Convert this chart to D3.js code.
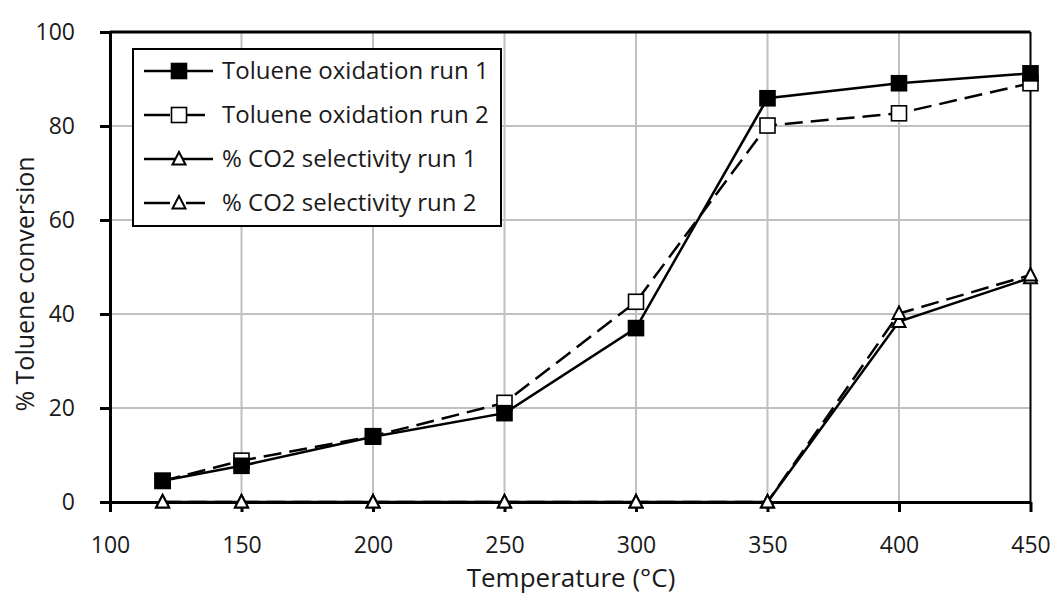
<!DOCTYPE html>
<html>
<head>
<meta charset="utf-8">
<script src="https://cdn.jsdelivr.net/npm/d3@7"></script>
<style>
  body { margin: 0; background: #fff; }
  svg text { font-family: "Open Sans", "Noto Sans", sans-serif; fill: #1a1a1a; }
</style>
</head>
<body>
<div id="chart"></div>
<script>
// ---- data ----
const temps = [120, 150, 200, 250, 300, 350, 400, 450];
const tolRun1 = [4.5, 7.7, 13.9, 18.9, 37.0, 85.9, 89.1, 91.2];
const tolRun2 = [4.5, 8.8, 14.0, 21.1, 42.6, 80.1, 82.7, 89.1];
const co2Run1 = [0, 0, 0, 0, 0, 0, 38.4, 47.7];
const co2Run2 = [0, 0, 0, 0, 0, 0, 40.1, 48.3];
const xTicks = [100, 150, 200, 250, 300, 350, 400, 450];
const yTicks = [0, 20, 40, 60, 80, 100];

const series = [
  { name: "Toluene oxidation run 1", values: tolRun1, marker: "square", fill: "#000", dash: null, z: 1 },
  { name: "Toluene oxidation run 2", values: tolRun2, marker: "square", fill: "#fff", dash: "18,8", z: 0 },
  { name: "% CO2 selectivity run 1", values: co2Run1, marker: "triangle", fill: "#fff", dash: null, z: 2 },
  { name: "% CO2 selectivity run 2", values: co2Run2, marker: "triangle", fill: "#fff", dash: "18,8", z: 3 }
];

const width = 1054, height = 595;
const svg = d3.select("#chart").append("svg")
  .attr("width", width)
  .attr("height", height);

const x = d3.scaleLinear().domain([100, 450]).range([110, 1030.5]);
const y = d3.scaleLinear().domain([0, 100]).range([502, 32]);

// gridlines
const grid = svg.append("g");
grid.selectAll("line.vg")
  .data(xTicks.filter(t => t > 100 && t < 450))
  .enter().append("line")
  .attr("x1", d => x(d)).attr("x2", d => x(d))
  .attr("y1", y(0)).attr("y2", y(100))
  .attr("stroke", "#c0c0c0").attr("stroke-width", 2);
grid.selectAll("line.hg")
  .data(yTicks.filter(t => t > 0 && t < 100))
  .enter().append("line")
  .attr("x1", x(100)).attr("x2", x(450))
  .attr("y1", d => y(d)).attr("y2", d => y(d))
  .attr("stroke", "#c0c0c0").attr("stroke-width", 2);

// frame: top and right
svg.append("line")
  .attr("x1", x(100)).attr("x2", x(450))
  .attr("y1", y(100)).attr("y2", y(100))
  .attr("stroke", "#000").attr("stroke-width", 3);
svg.append("line")
  .attr("x1", x(450)).attr("x2", x(450))
  .attr("y1", y(100)).attr("y2", y(0))
  .attr("stroke", "#000").attr("stroke-width", 2);

// axes
const yAxis = svg.append("g")
  .attr("transform", `translate(${x(100)},0)`)
  .call(d3.axisLeft(y).tickValues(yTicks).tickSize(10).tickSizeOuter(0).tickPadding(25));
const xAxis = svg.append("g")
  .attr("transform", `translate(0,${y(0)})`)
  .call(d3.axisBottom(x).tickValues(xTicks).tickSize(10).tickSizeOuter(0).tickPadding(25));

[yAxis, xAxis].forEach(a => {
  a.select(".domain").attr("stroke", "#000").attr("stroke-width", 3);
  a.selectAll(".tick line").attr("stroke", "#000").attr("stroke-width", 3);
  a.selectAll(".tick text")
    .style("font-size", "23px")
    .style("font-family", "'Open Sans', 'Noto Sans', sans-serif")
    .attr("fill", "#1a1a1a");
});

// axis titles
svg.append("text")
  .attr("x", 571).attr("y", 587)
  .attr("text-anchor", "middle")
  .style("font-size", "26px")
  .text("Temperature (°C)");
svg.append("text")
  .attr("transform", "translate(34,284) rotate(-90)")
  .attr("text-anchor", "middle")
  .style("font-size", "25px")
  .text("% Toluene conversion");

// markers
function drawMarker(g, type, fill, cx, cy) {
  if (type === "square") {
    g.append("rect")
      .attr("x", cx - 7.5).attr("y", cy - 7.5)
      .attr("width", 15).attr("height", 15)
      .attr("fill", fill).attr("stroke", "#000").attr("stroke-width", 1.6);
  } else {
    g.append("path")
      .attr("d", `M${cx},${cy - 7}L${cx + 6.5},${cy + 5.5}L${cx - 6.5},${cy + 5.5}Z`)
      .attr("fill", fill).attr("stroke", "#000").attr("stroke-width", 2);
  }
}

const line = d3.line().x(d => x(d[0])).y(d => y(d[1]));

// filled squares sit on top of the open ones, as in the reference
series.slice().sort((a, b) => a.z - b.z).forEach(s => {
  const pts = temps.map((t, i) => [t, s.values[i]]);
  const g = svg.append("g");
  g.append("path")
    .datum(pts)
    .attr("d", line)
    .attr("fill", "none")
    .attr("stroke", "#000")
    .attr("stroke-width", 2.5)
    .attr("stroke-dasharray", s.dash);
  pts.forEach(p => drawMarker(g, s.marker, s.fill, x(p[0]), y(p[1])));
});

// legend
const legend = svg.append("g");
legend.append("rect")
  .attr("x", 133).attr("y", 49)
  .attr("width", 368).attr("height", 177)
  .attr("fill", "#fff").attr("stroke", "#000").attr("stroke-width", 2);

series.forEach((s, i) => {
  const ly = 71 + i * 44;
  const g = legend.append("g");
  if (s.dash) {
    g.append("line").attr("x1", 144).attr("x2", 170).attr("y1", ly).attr("y2", ly)
      .attr("stroke", "#000").attr("stroke-width", 2.5);
    g.append("line").attr("x1", 186).attr("x2", 205).attr("y1", ly).attr("y2", ly)
      .attr("stroke", "#000").attr("stroke-width", 2.5);
  } else {
    g.append("line").attr("x1", 144).attr("x2", 213).attr("y1", ly).attr("y2", ly)
      .attr("stroke", "#000").attr("stroke-width", 2.5);
  }
  drawMarker(g, s.marker, s.fill, 179, ly);
  g.append("text")
    .attr("x", 222).attr("y", ly)
    .attr("dy", "0.35em")
    .style("font-size", "24px")
    .text(s.name);
});
</script>
</body>
</html>
